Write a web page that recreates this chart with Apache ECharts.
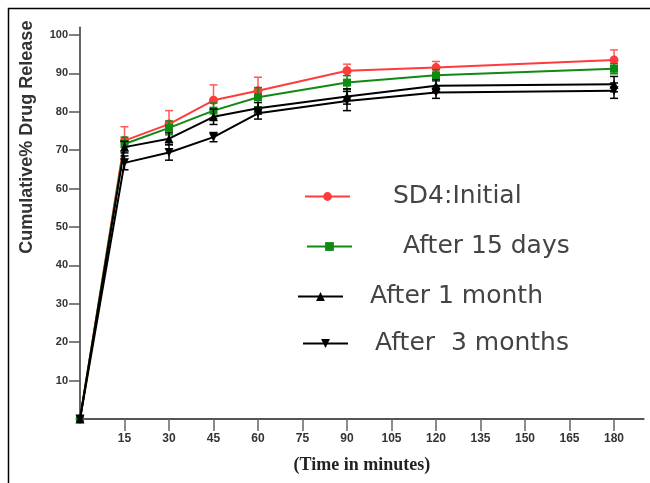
<!DOCTYPE html>
<html>
<head>
<meta charset="utf-8">
<script src="https://cdn.jsdelivr.net/npm/echarts@6/dist/echarts.min.js"></script>
<style>html,body{margin:0;padding:0;background:#fff}#c{width:650px;height:483px}</style>
</head>
<body>
<div id="c"></div>
<script>
// Time points (minutes)
const times = [0, 15, 30, 45, 60, 90, 120, 180];
const xTickLabels = [15, 30, 45, 60, 75, 90, 105, 120, 135, 150, 165, 180];
const yTickLabels = [10, 20, 30, 40, 50, 60, 70, 80, 90, 100];

const seriesNames = ['SD4:Initial', 'After 15 days', 'After 1 month', 'After  3 months'];
const initialVals = [0, 72.5, 76.8, 83.0, 85.5, 90.7, 91.5, 93.5];
const initialSD   = [0, 3.6, 3.5, 4.0, 3.5, 1.7, 1.6, 2.6];
const days15Vals  = [0, 71.6, 75.8, 80.3, 83.8, 87.6, 89.5, 91.2];
const days15SD    = [0, 1.8, 1.8, 2.0, 2.5, 1.8, 1.5, 1.3];
const month1Vals  = [0, 70.8, 73.0, 78.7, 80.9, 84.0, 86.8, 87.2];
const month1SD    = [0, 1.5, 1.5, 2.0, 1.5, 2.0, 1.5, 2.0];
const month3Vals  = [0, 66.7, 69.4, 73.4, 79.6, 82.8, 85.0, 85.5];
const month3SD    = [0, 1.8, 2.0, 1.2, 1.5, 2.5, 1.5, 2.0];

const colors = ['#ff3b3b', '#0f8a12', '#000000', '#000000'];
const symbols = ['circle', 'rect', 'triangle', 'triangle'];
const symbolRot = [0, 0, 0, 180];
const vals = [initialVals, days15Vals, month1Vals, month3Vals];
const sds = [initialSD, days15SD, month1SD, month3SD];
const upOnly = [true, false, false, false];

const chart = echarts.init(document.getElementById('c'), null, {renderer: 'canvas'});

const series = [];
vals.forEach(function (v, i) {
  // error bars
  series.push({
    type: 'custom',
    name: seriesNames[i] + ' SD',
    z: 2 + i * 2,
    silent: true,
    data: times.map(function (t, k) { return [t, v[k], sds[i][k]]; }),
    renderItem: function (params, api) {
      const x = api.value(0), y = api.value(1), s = api.value(2);
      if (!s) return null;
      const top = api.coord([x, y + s]);
      const bot = api.coord([x, upOnly[i] ? y : y - s]);
      const cw = 4;
      const st = {stroke: i === 0 ? '#ff5a5a' : colors[i], lineWidth: 1.5};
      const children = [
        {type: 'line', shape: {x1: top[0], y1: top[1], x2: bot[0], y2: bot[1]}, style: st},
        {type: 'line', shape: {x1: top[0] - cw, y1: top[1], x2: top[0] + cw, y2: top[1]}, style: st}
      ];
      if (!upOnly[i]) children.push({type: 'line', shape: {x1: bot[0] - cw, y1: bot[1], x2: bot[0] + cw, y2: bot[1]}, style: st});
      return {type: 'group', children: children};
    }
  });
  series.push({
    type: 'line',
    name: seriesNames[i],
    z: 3 + i * 2,
    data: times.map(function (t, k) { return [t, v[k]]; }),
    symbol: symbols[i],
    symbolRotate: symbolRot[i],
    symbolSize: i === 1 ? 8 : 9,
    showAllSymbol: true,
    lineStyle: {color: colors[i], width: 2},
    itemStyle: {color: colors[i]}
  });
});

const legendPos = [
  {left: 299, top: 179, pad: 38},
  {left: 301, top: 229, pad: 46},
  {left: 292, top: 279, pad: 22},
  {left: 297, top: 326, pad: 22}
];

chart.setOption({
  animation: false,
  backgroundColor: '#fff',
  grid: {left: 80, right: 6.3, top: 27.3, bottom: 64, containLabel: false},
  xAxis: {
    type: 'value', min: 0, max: 190,
    name: '(Time in minutes)', nameLocation: 'middle', nameGap: 37,
    nameTextStyle: {fontFamily: 'Liberation Serif', fontWeight: 'bold', fontSize: 18, color: '#222'},
    axisLine: {lineStyle: {color: '#555', width: 1.8}},
    axisTick: {show: true, length: 12, lineStyle: {color: '#666', width: 1.5}, customValues: xTickLabels},
    axisLabel: {customValues: xTickLabels, margin: 14, fontFamily: 'Liberation Sans', fontWeight: 'bold', fontSize: 12, color: '#333'},
    splitLine: {show: false}
  },
  yAxis: {
    type: 'value', min: 0, max: 102,
    name: 'Cumulative% Drug Release', nameLocation: 'middle', nameGap: 44, nameRotate: 90,
    nameTextStyle: {fontFamily: 'Liberation Sans', fontWeight: 'bold', fontSize: 18, color: '#333', padding: [0, 0, 0, 172]},
    axisLine: {show: true, lineStyle: {color: '#555', width: 1.8}},
    axisTick: {show: true, length: 11, lineStyle: {color: '#555', width: 1.5}, customValues: yTickLabels},
    axisLabel: {customValues: yTickLabels, margin: 12, fontFamily: 'Liberation Sans', fontWeight: 'bold', fontSize: 11, color: '#333'},
    splitLine: {show: false}
  },
  legend: legendPos.map(function (p, i) {
    return {
      data: [seriesNames[i]], left: p.left, top: p.top, orient: 'vertical',
      itemWidth: 45, itemHeight: 11, selectedMode: false,
      textStyle: {fontFamily: 'DejaVu Sans', fontSize: 25, color: '#444', padding: [0, 0, 0, p.pad]}
    };
  }),
  graphic: [{
    type: 'rect', silent: true, z: 100,
    shape: {x: 8.5, y: 8.5, width: 700, height: 600},
    style: {fill: 'none', stroke: '#000', lineWidth: 1.5}
  }],
  series: series
});
</script>
</body>
</html>
